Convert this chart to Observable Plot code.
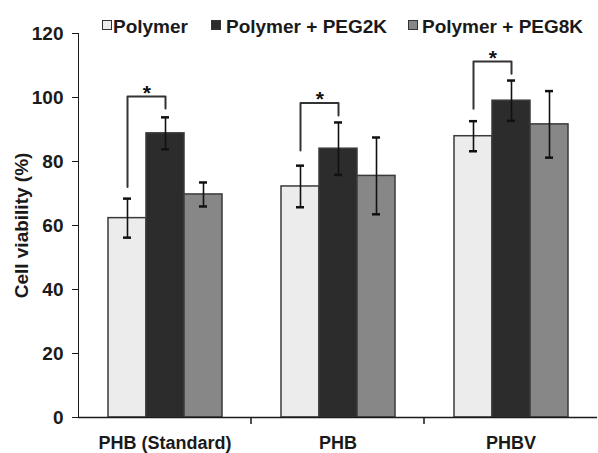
<!DOCTYPE html>
<html>
<head>
<meta charset="utf-8">
<script src="https://cdn.jsdelivr.net/npm/d3@7"></script>
<script src="https://cdn.jsdelivr.net/npm/@observablehq/plot@0.6"></script>
<style>
  html, body { margin: 0; padding: 0; background: #fff; }
  #wrap { position: relative; width: 598px; height: 453px; overflow: hidden; }
  .leg { position: absolute; font-family: "Liberation Sans", Arial, sans-serif; font-weight: bold; font-size: 19px; line-height: 1; color: #1a1a1a; white-space: nowrap; }
  .sw { position: absolute; width: 8px; height: 8px; border: 1.5px solid #333; }
</style>
</head>
<body>
<div id="wrap"></div>
<script>
const categories = ["PHB (Standard)", "PHB", "PHBV"];
const series = ["Polymer", "Polymer + PEG2K", "Polymer + PEG8K"];
const polymer = [62.3, 72.2, 87.9];
const peg2k = [88.8, 84.0, 99.0];
const peg8k = [69.7, 75.5, 91.6];
const polymerErr = [6.1, 6.5, 4.7];
const peg2kErr = [5.0, 8.2, 6.3];
const peg8kErr = [3.75, 12.0, 10.4];
const bracketTop = [100.3, 98.3, 111.25];
const bracketLeft = [72.0, 83.4, 96.5];
const bracketRight = [96.6, 94.4, 107.4];
const yTicks = [0, 20, 40, 60, 80, 100, 120];
const colors = ["#ececec", "#2c2c2c", "#878787"];

const values = [polymer, peg2k, peg8k];
const errs = [polymerErr, peg2kErr, peg8kErr];
const rows = categories.flatMap((c, i) => series.map((s, j) => ({
  category: c, series: s, value: values[j][i], err: errs[j][i]
})));
const bracketPts = categories.flatMap((c, i) => [
  {category: c, series: series[0], y: bracketLeft[i]},
  {category: c, series: series[0], y: bracketTop[i]},
  {category: c, series: series[1], y: bracketTop[i]},
  {category: c, series: series[1], y: bracketRight[i]}
]);
const stars = categories.map((c, i) => ({category: c, series: series[0], y: bracketTop[i]}));

const W = 598, H = 453;
const mL = 77, mR = 0, mT = 33, mB = 36;
const facetW = (W - mL - mR) / categories.length;
const padOuter = 0.745;
const step = facetW / (series.length + 2 * padOuter);

const chart = Plot.plot({
  width: W, height: H,
  marginLeft: mL, marginRight: mR, marginTop: mT, marginBottom: mB,
  style: {fontFamily: "Liberation Sans, Arial, sans-serif", fontSize: "19px", fontWeight: "bold", color: "#1a1a1a", background: "#fff"},
  fx: {domain: categories, padding: 0},
  x: {domain: series, axis: null, paddingInner: 0, paddingOuter: padOuter},
  y: {domain: [0, 120], ticks: yTicks, tickSize: 6, tickPadding: 9, line: true,
      label: "Cell viability (%)", labelAnchor: "center", labelOffset: 64, labelArrow: "none",
      tickFormat: d => String(d)},
  color: {domain: series, range: colors},
  marks: [
    Plot.barY(rows, {fx: "category", x: "series", y: "value", fill: "series", stroke: "#3a3a3a", strokeWidth: 1.5}),
    Plot.ruleX(rows, {fx: "category", x: "series", y1: d => d.value - d.err, y2: d => d.value + d.err, stroke: "#111", strokeWidth: 1.6}),
    Plot.tickY(rows, {fx: "category", x: "series", y: d => d.value + d.err, insetLeft: 15, insetRight: 15, stroke: "#111", strokeWidth: 2.5}),
    Plot.tickY(rows, {fx: "category", x: "series", y: d => d.value - d.err, insetLeft: 15, insetRight: 15, stroke: "#111", strokeWidth: 2.5}),
    Plot.line(bracketPts, {fx: "category", x: "series", y: "y", z: "category", stroke: "#333", strokeWidth: 2}),
    Plot.text(stars, {fx: "category", x: "series", y: "y", text: () => "*", dx: step / 2, dy: 3, lineAnchor: "bottom", fontSize: 21, fill: "#111"}),
    Plot.ruleY([0], {stroke: "#1a1a1a", strokeWidth: 1.5}),
    Plot.axisFx({anchor: "bottom", tickSize: 0, tickPadding: 19, fontSize: 18, label: null})
  ]
});

// boundary ticks between categories on the x axis, positioned with Plot's fx scale
const fxs = chart.scale("fx");
const ys = chart.scale("y");
const svg = d3.select(chart);
categories.slice(1).forEach(c => {
  const x = fxs.apply(c);
  svg.append("line")
    .attr("x1", x).attr("x2", x)
    .attr("y1", ys.apply(0)).attr("y2", ys.apply(0) + 7)
    .attr("stroke", "#1a1a1a").attr("stroke-width", 1.5);
});

const wrap = document.getElementById("wrap");
wrap.appendChild(chart);

// legend
const legendPos = [[102, 113], [211, 226], [408, 422]];
series.forEach((s, j) => {
  const sw = document.createElement("div");
  sw.className = "sw";
  sw.style.left = legendPos[j][0] + "px";
  sw.style.top = "20px";
  sw.style.background = colors[j];
  wrap.appendChild(sw);
  const t = document.createElement("div");
  t.className = "leg";
  t.style.left = legendPos[j][1] + "px";
  t.style.top = "17px";
  t.textContent = s;
  wrap.appendChild(t);
});
</script>
</body>
</html>
